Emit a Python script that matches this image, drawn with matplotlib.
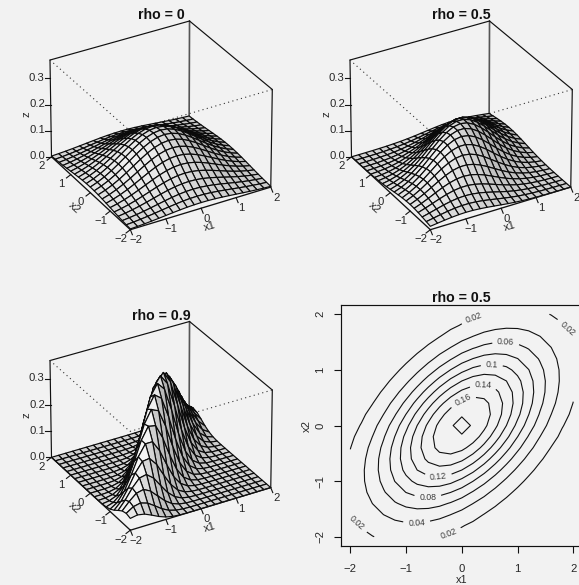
import numpy as np
import matplotlib
matplotlib.use("Agg")
import matplotlib.pyplot as plt
from matplotlib.collections import PolyCollection

plt.rcParams['font.family'] = ['Liberation Sans', 'DejaVu Sans']

x1_values = [-2.0, -1.8, -1.6, -1.4, -1.2, -1.0, -0.8, -0.6, -0.4, -0.2, 0.0,
             0.2, 0.4, 0.6, 0.8, 1.0, 1.2, 1.4, 1.6, 1.8, 2.0]
x2_values = list(x1_values)

# Surface heights for x2 = 0, 0.2, ... 2 (columns: x1 = -2 ... 2).
# The lower half of each surface repeats these rows turned by 180 degrees.
rho00_rows = [
 [.0215,.0315,.0442,.0597,.0775,.0965,.1156,.1329,.1469,.1560,.1592,.1560,.1469,.1329,.1156,.0965,.0775,.0597,.0442,.0315,.0215],
 [.0211,.0309,.0434,.0585,.0759,.0946,.1133,.1303,.1440,.1529,.1560,.1529,.1440,.1303,.1133,.0946,.0759,.0585,.0434,.0309,.0211],
 [.0199,.0291,.0408,.0551,.0715,.0891,.1067,.1227,.1356,.1440,.1469,.1440,.1356,.1227,.1067,.0891,.0715,.0551,.0408,.0291,.0199],
 [.0180,.0263,.0370,.0499,.0647,.0806,.0965,.1110,.1227,.1303,.1329,.1303,.1227,.1110,.0965,.0806,.0647,.0499,.0370,.0263,.0180],
 [.0156,.0229,.0321,.0434,.0563,.0701,.0839,.0965,.1067,.1133,.1156,.1133,.1067,.0965,.0839,.0701,.0563,.0434,.0321,.0229,.0156],
 [.0131,.0191,.0268,.0362,.0470,.0586,.0701,.0806,.0891,.0946,.0965,.0946,.0891,.0806,.0701,.0586,.0470,.0362,.0268,.0191,.0131],
 [.0105,.0153,.0215,.0291,.0377,.0470,.0563,.0647,.0715,.0759,.0775,.0759,.0715,.0647,.0563,.0470,.0377,.0291,.0215,.0153,.0105],
 [.0081,.0118,.0166,.0224,.0291,.0362,.0434,.0499,.0551,.0585,.0597,.0585,.0551,.0499,.0434,.0362,.0291,.0224,.0166,.0118,.0081],
 [.0060,.0088,.0123,.0166,.0215,.0268,.0321,.0370,.0408,.0434,.0442,.0434,.0408,.0370,.0321,.0268,.0215,.0166,.0123,.0088,.0060],
 [.0043,.0062,.0088,.0118,.0153,.0191,.0229,.0263,.0291,.0309,.0315,.0309,.0291,.0263,.0229,.0191,.0153,.0118,.0088,.0062,.0043],
 [.0029,.0043,.0060,.0081,.0105,.0131,.0156,.0180,.0199,.0211,.0215,.0211,.0199,.0180,.0156,.0131,.0105,.0081,.0060,.0043,.0029],
]
rho05_rows = [
 [.0128,.0212,.0334,.0498,.0705,.0943,.1201,.1445,.1652,.1789,.1838,.1789,.1652,.1445,.1201,.0943,.0705,.0498,.0334,.0212,.0128],
 [.0095,.0163,.0263,.0403,.0584,.0804,.1052,.1300,.1525,.1696,.1789,.1789,.1696,.1525,.1300,.1052,.0804,.0584,.0403,.0263,.0163],
 [.0067,.0118,.0196,.0309,.0460,.0650,.0871,.1110,.1335,.1525,.1652,.1696,.1652,.1525,.1335,.1110,.0871,.0650,.0460,.0309,.0196],
 [.0045,.0081,.0138,.0224,.0343,.0498,.0686,.0894,.1110,.1300,.1445,.1525,.1525,.1445,.1300,.1110,.0894,.0686,.0498,.0343,.0224],
 [.0029,.0053,.0093,.0154,.0243,.0362,.0512,.0686,.0871,.1052,.1201,.1300,.1335,.1300,.1201,.1052,.0871,.0686,.0512,.0362,.0243],
 [.0017,.0033,.0059,.0100,.0163,.0250,.0362,.0498,.0650,.0804,.0943,.1052,.1110,.1110,.1052,.0943,.0804,.0650,.0498,.0362,.0250],
 [.0010,.0019,.0036,.0062,.0103,.0163,.0243,.0343,.0460,.0584,.0705,.0804,.0871,.0894,.0871,.0804,.0705,.0584,.0460,.0343,.0243],
 [.0005,.0011,.0020,.0036,.0062,.0100,.0154,.0224,.0309,.0403,.0498,.0584,.0650,.0686,.0686,.0650,.0584,.0498,.0403,.0309,.0224],
 [.0003,.0006,.0011,.0020,.0036,.0059,.0093,.0138,.0196,.0263,.0334,.0403,.0460,.0498,.0512,.0498,.0460,.0403,.0334,.0263,.0196],
 [.0001,.0003,.0006,.0011,.0019,.0033,.0053,.0081,.0118,.0163,.0212,.0263,.0309,.0343,.0362,.0362,.0343,.0309,.0263,.0212,.0163],
 [.0001,.0001,.0003,.0005,.0010,.0017,.0029,.0045,.0067,.0095,.0128,.0163,.0196,.0224,.0243,.0250,.0243,.0224,.0196,.0163,.0128],
]
rho09_rows = [
 [.0000,.0001,.0004,.0021,.0083,.0263,.0678,.1416,.2399,.3287,.3652,.3287,.2399,.1416,.0678,.0263,.0083,.0021,.0004,.0001,.0000],
 [.0000,.0000,.0001,.0005,.0024,.0092,.0286,.0722,.1477,.2448,.3287,.3575,.3151,.2250,.1301,.0610,.0232,.0071,.0018,.0004,.0001],
 [.0000,.0000,.0000,.0001,.0006,.0026,.0098,.0298,.0737,.1477,.2399,.3151,.3356,.2897,.2025,.1147,.0526,.0196,.0059,.0014,.0003],
 [.0000,.0000,.0000,.0000,.0001,.0006,.0027,.0100,.0298,.0722,.1416,.2250,.2897,.3021,.2553,.1748,.0970,.0436,.0158,.0047,.0011],
 [.0000,.0000,.0000,.0000,.0000,.0001,.0006,.0027,.0098,.0286,.0678,.1301,.2025,.2553,.2607,.2157,.1446,.0785,.0345,.0123,.0036],
 [.0000,.0000,.0000,.0000,.0000,.0000,.0001,.0006,.0026,.0092,.0263,.0610,.1147,.1748,.2157,.2157,.1748,.1147,.0610,.0263,.0092],
 [.0000,.0000,.0000,.0000,.0000,.0000,.0000,.0001,.0006,.0024,.0083,.0232,.0526,.0970,.1446,.1748,.1711,.1358,.0872,.0454,.0192],
 [.0000,.0000,.0000,.0000,.0000,.0000,.0000,.0000,.0001,.0005,.0021,.0071,.0196,.0436,.0785,.1147,.1358,.1301,.1011,.0636,.0324],
 [.0000,.0000,.0000,.0000,.0000,.0000,.0000,.0000,.0000,.0001,.0004,.0018,.0059,.0158,.0345,.0610,.0872,.1011,.0949,.0722,.0445],
 [.0000,.0000,.0000,.0000,.0000,.0000,.0000,.0000,.0000,.0000,.0001,.0004,.0014,.0047,.0123,.0263,.0454,.0636,.0722,.0663,.0494],
 [.0000,.0000,.0000,.0000,.0000,.0000,.0000,.0000,.0000,.0000,.0000,.0001,.0003,.0011,.0036,.0092,.0192,.0324,.0445,.0494,.0445],
]

panel_titles = ["rho = 0", "rho = 0.5", "rho = 0.9"]
contour_title = "rho = 0.5"
contour_levels = [0.02, 0.04, 0.06, 0.08, 0.10, 0.12, 0.14, 0.16, 0.18]
x_ticks = [-2, -1, 0, 1, 2]
z_ticks = [0.0, 0.1, 0.2, 0.3]
z_limit = 0.368

BG = '#f2f2f2'
INK = '#262626'
W, H, DPI = 579, 585, 100
TICK_PT = 8.1
THETA, PHI, EXPAND, DIST = np.radians(30), np.radians(30), 0.688, 50.0
LIGHT = np.array([-0.95, -0.31, 0.0])


def facet_grey(n):
    dot = n @ LIGHT
    return min(1.0, 0.82 + 0.2 * dot) if dot > 0 else 0.82 + 0.28 * dot


def full_surface(rows):
    rows = np.array(rows)
    return np.vstack([rows[:0:-1, ::-1], rows])


def scaled(x, y, z):
    return np.asarray(x) / 2.0, np.asarray(y) / 2.0, EXPAND * (2 * np.asarray(z) / z_limit - 1)


def project(x, y, z):
    u, v, w = scaled(x, y, z)
    along = u * np.sin(THETA) + v * np.cos(THETA)
    sx = u * np.cos(THETA) - v * np.sin(THETA)
    sy = along * np.sin(PHI) + w * np.cos(PHI)
    depth = -along * np.cos(PHI) + w * np.sin(PHI)
    f = DIST / (DIST - depth)
    return sx * f, sy * f, depth


def fig_rect(left, top, right, bottom):
    return [left / W, 1 - bottom / H, (right - left) / W, (bottom - top) / H]


def persp_panel(fig, rows, title, dx, dy):
    ax = fig.add_axes(fig_rect(50 + dx, 21 + dy, 272.3 + dx, 229.7 + dy))
    ax.axis('off')
    cx = [-2, 2]
    corners = np.array([project(a, b, c)[:2] for a in cx for b in cx for c in (0, z_limit)], dtype=float)
    ax.set_xlim(corners[:, 0].min(), corners[:, 0].max())
    ax.set_ylim(corners[:, 1].min(), corners[:, 1].max())
    sxp = (272.3 - 50) / (corners[:, 0].max() - corners[:, 0].min())
    syp = (229.7 - 21) / (corners[:, 1].max() - corners[:, 1].min())

    def edge(a, b, **kw):
        pa, pb = project(*a)[:2], project(*b)[:2]
        ax.plot([pa[0], pb[0]], [pa[1], pb[1]], color=kw.pop('color', '#111111'),
                lw=kw.pop('lw', 0.85), clip_on=False, solid_capstyle='round', **kw)

    zt = z_limit
    # rear edges of the box, solid, below the surface
    edge((-2, 2, 0), (-2, 2, zt), zorder=1)
    edge((2, 2, 0), (2, 2, zt), zorder=1, color='#555555', lw=1.2)
    edge((2, -2, 0), (2, -2, zt), zorder=1)
    edge((-2, 2, zt), (2, 2, zt), zorder=1)
    edge((2, 2, zt), (2, -2, zt), zorder=1)
    # front top edges, dotted, below the surface
    dots = dict(zorder=1, linestyle=(0, (1, 3)), lw=0.8, color='#333333')
    edge((-2, 2, zt), (-2, -2, zt), **dots)
    edge((-2, -2, zt), (2, -2, zt), **dots)

    Z = full_surface(rows)
    X, Y = np.meshgrid(np.array(x1_values), np.array(x2_values))
    px, py, pd = project(X, Y, Z)
    U, V, R = scaled(X, Y, Z)
    polys, shades, depths = [], [], []
    for j in range(Z.shape[0] - 1):
        for i in range(Z.shape[1] - 1):
            idx = [(j, i), (j, i + 1), (j + 1, i + 1), (j + 1, i)]
            polys.append([(px[q], py[q]) for q in idx])
            d1 = np.array([U[j + 1, i + 1] - U[j, i], V[j + 1, i + 1] - V[j, i], R[j + 1, i + 1] - R[j, i]])
            d2 = np.array([U[j + 1, i] - U[j, i + 1], V[j + 1, i] - V[j, i + 1], R[j + 1, i] - R[j, i + 1]])
            n = np.cross(d1, d2)
            n = n / np.linalg.norm(n)
            if n[2] < 0:
                n = -n
            shades.append(facet_grey(n))
            depths.append(np.mean([pd[q] for q in idx]))
    order = np.argsort(depths)
    faces = [(shades[k], shades[k], shades[k], 1.0) for k in order]
    pc = PolyCollection([polys[k] for k in order], facecolors=faces, edgecolors='#0a0a0a',
                        linewidths=0.85, zorder=2, clip_on=False)
    ax.add_collection(pc)

    # front floor edges over the surface
    edge((-2, -2, 0), (2, -2, 0), zorder=3, lw=0.95)
    edge((-2, -2, 0), (-2, 2, 0), zorder=3, lw=0.95)

    def tick(point, vec):
        p = project(*point)[:2]
        ax.plot([p[0], p[0] + vec[0] / sxp], [p[1], p[1] - vec[1] / syp], color='#111111',
                lw=0.8, clip_on=False, zorder=3)

    def label(point, off, text, rot=0, ha='center', size=TICK_PT):
        p = project(*point)[:2]
        ax.annotate(text, (p[0], p[1]), xytext=(off[0], -off[1]), textcoords='offset pixels',
                    ha=ha, va='center', rotation=rot, rotation_mode='anchor', fontsize=size,
                    color=INK, annotation_clip=False, zorder=4)

    for v in x_ticks:
        txt = str(v).replace('-', '\u2212')
        tick((v, -2, 0), (2, 5))
        label((v, -2, 0), (5.5, 10.5), txt)
        tick((-2, v, 0), (-4.3, 3.3))
        label((-2, v, 0), (-9.5, 9.5), txt)
    for v in z_ticks:
        tick((-2, 2, v), (-5.7, 0))
        label((-2, 2, v), (-5.7, -0.5), f"{v:.1f}", ha='right')
    label((0, -2, 0), (8.5, 18.5), 'x1', rot=16.6, size=8.1)
    label((-2, 0, 0), (-15.5, 15), 'x2', rot=-42, size=8.1)
    label((-2, 2, z_limit / 2), (-24.5, 5.5), 'z', rot=90, size=8.1)

    fig.text((161.5 + dx) / W, 1 - (15 + dy) / H, title, ha='center', va='center',
             fontsize=10.2, fontweight='bold', color='#111111')


def contour_panel(fig, rows, title):
    ax = fig.add_axes(fig_rect(341.4, 305.4, 582.2, 545.6))
    ax.set_xlim(-2.16, 2.16)
    ax.set_ylim(-2.16, 2.16)
    ax.set_facecolor('none')
    Z = full_surface(rows)
    cs = ax.contour(np.array(x1_values), np.array(x2_values), Z, levels=contour_levels,
                    colors='#111111', linewidths=0.8)
    spots = [(0.22, 1.93), (1.85, 1.71), (-0.24, -1.94), (-1.86, -1.74), (0.79, 1.48),
             (0.54, 1.07), (0.39, 0.68), (0.03, 0.42), (-0.42, -0.90), (-0.61, -1.28), (-0.81, -1.75)]
    turns = [20, -42, 20, -42, -3, -3, -3, 27, 5, 0, 3]
    ax.clabel(cs, fmt=lambda v: f"{v:g}", fontsize=6.3, inline=True, inline_spacing=5,
              manual=spots, colors='#3a3a3a')
    for t, r in zip(cs.labelTexts, turns):
        t.set_rotation(r)
    ax.set_xticks(x_ticks)
    ax.set_yticks(x_ticks)
    minus = [str(v).replace('-', '\u2212') for v in x_ticks]
    ax.set_xticklabels(minus, fontsize=TICK_PT, color=INK)
    ax.set_yticklabels(minus, fontsize=TICK_PT, color=INK, rotation=90, va='center')
    ax.tick_params(axis='both', length=5.2, width=0.8, color='#111111', pad=6.5)
    ax.tick_params(axis='x', pad=7.8)
    for sp in ax.spines.values():
        sp.set_linewidth(0.85)
        sp.set_color('#111111')
    fig.text(461.8 / W, 1 - 580 / H, 'x1', ha='center', va='center', fontsize=7.8, color=INK)
    fig.text(307 / W, 1 - 425.5 / H, 'x2', ha='center', va='center', fontsize=8.1, color=INK, rotation=90)
    fig.text(461.8 / W, 1 - 298 / H, title, ha='center', va='center', fontsize=10.2,
             fontweight='bold', color='#111111')


fig = plt.figure(figsize=(W / DPI, H / DPI), dpi=DPI, facecolor=BG)
persp_panel(fig, rho00_rows, panel_titles[0], 0, 0)
persp_panel(fig, rho05_rows, panel_titles[1], 300, 0)
persp_panel(fig, rho09_rows, panel_titles[2], 0, 300.5)
contour_panel(fig, rho05_rows, contour_title)
fig.savefig('out.png', dpi=DPI, facecolor=BG)
